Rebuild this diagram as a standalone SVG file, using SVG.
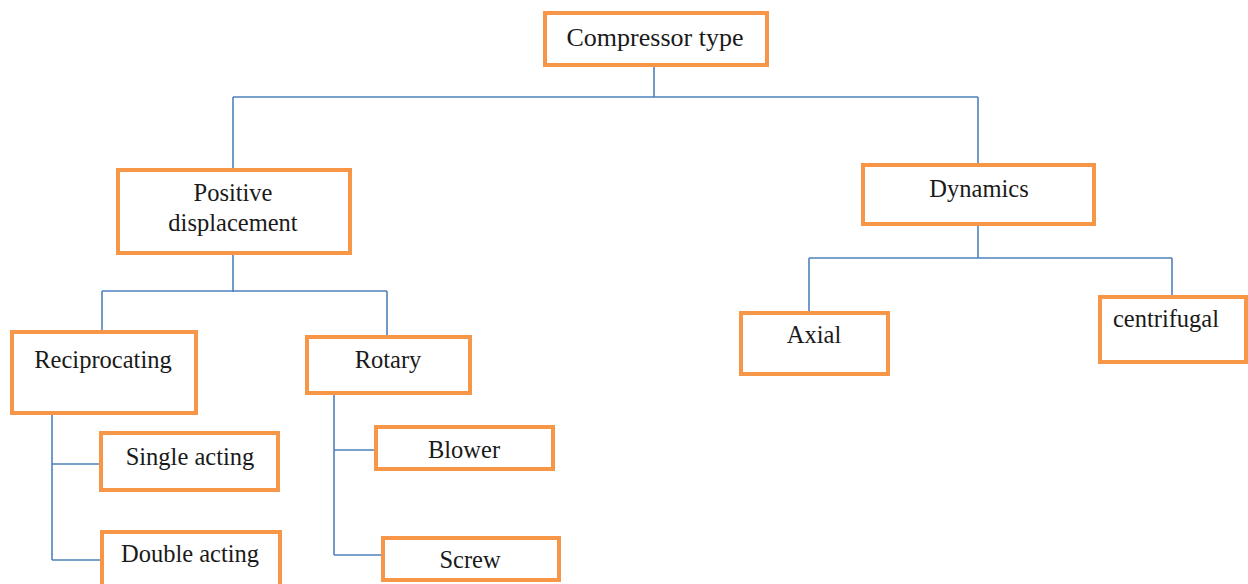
<svg xmlns="http://www.w3.org/2000/svg" width="1248" height="584" viewBox="0 0 1248 584">
  <style>
    .box { fill: #ffffff; stroke: #F79646; stroke-width: 4; }
    .lbl { font-family: "Liberation Serif", "Times New Roman", serif; font-size: 24.5px; fill: #1a1a1a; text-anchor: middle; }
    .link { fill: none; stroke: #4F81BD; stroke-width: 1.6; }
  </style>
  <rect width="1248" height="584" fill="#ffffff"/>

  <g id="connectors">
    <!-- root to first level -->
    <path class="link" d="M654 65 V97 M233 97 H978 M233 97 V170 M978 97 V165"/>
    <!-- positive displacement branches -->
    <path class="link" d="M233 253 V292 M102 291 H387 M102 291 V332 M387 291 V337"/>
    <!-- reciprocating children -->
    <path class="link" d="M52 413 V560 M52 464 H101 M52 560 H102"/>
    <!-- rotary children -->
    <path class="link" d="M334 393 V555 M334 450 H376 M334 555 H383"/>
    <!-- dynamics branches -->
    <path class="link" d="M978 224 V258 M809 258 H1172 M809 258 V313 M1172 258 V297"/>
  </g>

  <g id="compressor-type">
    <rect class="box" x="545" y="13" width="222" height="52"/>
    <text class="lbl" x="655" y="46" style="font-size:26px">Compressor type</text>
  </g>

  <g id="positive-displacement">
    <rect class="box" x="118" y="170" width="232" height="83"/>
    <text class="lbl" x="233" y="201">Positive</text>
    <text class="lbl" x="233" y="231">displacement</text>
  </g>

  <g id="dynamics">
    <rect class="box" x="863" y="165" width="231" height="59"/>
    <text class="lbl" x="979" y="197">Dynamics</text>
  </g>

  <g id="reciprocating">
    <rect class="box" x="12" y="332" width="184" height="81"/>
    <text class="lbl" x="103" y="368">Reciprocating</text>
  </g>

  <g id="rotary">
    <rect class="box" x="307" y="337" width="163" height="56"/>
    <text class="lbl" x="388" y="368">Rotary</text>
  </g>

  <g id="single-acting">
    <rect class="box" x="101" y="433" width="177" height="57"/>
    <text class="lbl" x="190" y="465">Single acting</text>
  </g>

  <g id="double-acting">
    <rect class="box" x="102" y="532" width="178" height="60"/>
    <text class="lbl" x="190" y="562">Double acting</text>
  </g>

  <g id="blower">
    <rect class="box" x="376" y="427" width="177" height="42"/>
    <text class="lbl" x="464" y="458">Blower</text>
  </g>

  <g id="screw">
    <rect class="box" x="383" y="538" width="176" height="42"/>
    <text class="lbl" x="470" y="568">Screw</text>
  </g>

  <g id="axial">
    <rect class="box" x="741" y="313" width="147" height="61"/>
    <text class="lbl" x="814" y="343">Axial</text>
  </g>

  <g id="centrifugal">
    <rect class="box" x="1100" y="297" width="146" height="65"/>
    <text class="lbl" x="1166" y="327">centrifugal</text>
  </g>
</svg>
